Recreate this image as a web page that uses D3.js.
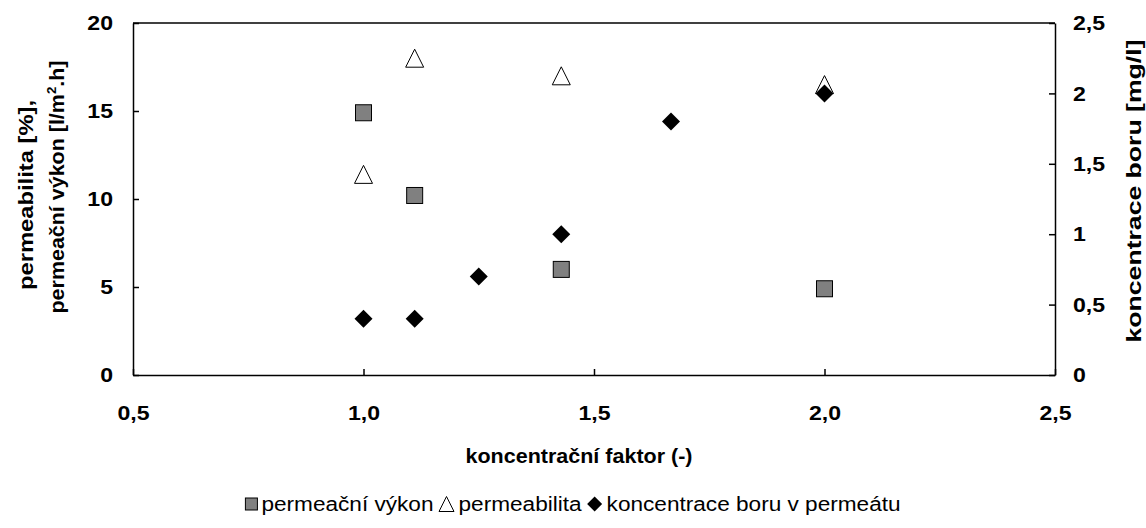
<!DOCTYPE html>
<html lang="cs">
<head>
  <meta charset="UTF-8" />
  <title>Koncentrační faktor</title>
  <script src="https://d3js.org/d3.v7.min.js"></script>
  <style>
    body {
      margin: 0;
      background: #fff;
    }
    svg {
      font-family: "Liberation Sans", Arial, sans-serif;
    }
    .axis path, .axis line {
      stroke: #000;
      stroke-width: 1.5px;
    }
    .title {
      font-size: 21px;
      font-weight: bold;
    }
    .legend text {
      font-size: 20px;
    }
  </style>
</head>
<body>
  <svg width="1146" height="528"></svg>

  <script>
    // koncentrační faktor for the two series measured at four points
    const xMembrane = [1.0, 1.111, 1.429, 2.0];
    const vykon = [14.9, 10.2, 6.0, 4.9];          // permeační výkon [l/m2.h]
    const permeabilita = [11.4, 18.0, 17.0, 16.5];  // permeabilita [%]

    // boron in permeate, right axis
    const xBoron = [1.0, 1.111, 1.25, 1.429, 1.667, 2.0];
    const boron = [0.4, 0.4, 0.7, 1.0, 1.8, 2.0];

    const xTicks = [0.5, 1.0, 1.5, 2.0, 2.5];
    const yLeftTicks = [0, 5, 10, 15, 20];
    const yRightTicks = [0, 0.5, 1, 1.5, 2, 2.5];

    const legendLabels = ["permeační výkon", "permeabilita", "koncentrace boru v permeátu"];

    const svg = d3.select("svg"),
          margin = { top: 23, right: 91, bottom: 153, left: 133 },
          width = +svg.attr("width") - margin.left - margin.right,
          height = +svg.attr("height") - margin.top - margin.bottom,
          g = svg.append("g").attr("transform", `translate(${margin.left},${margin.top})`);

    const comma = f => v => f(v).replace(".", ",");

    const x = d3.scaleLinear().domain([0.5, 2.5]).range([0, width]);
    const yL = d3.scaleLinear().domain([0, 20]).range([height, 0]);
    const yR = d3.scaleLinear().domain([0, 2.5]).range([height, 0]);

    // widen text the way the original rendering does
    function stretch(sel, k) {
      sel.each(function () {
        const len = this.getComputedTextLength();
        d3.select(this).attr("textLength", len * k).attr("lengthAdjust", "spacingAndGlyphs");
      });
    }

    function styleAxis(a) {
      a.attr("font-family", "Liberation Sans, Arial, sans-serif")
        .attr("font-size", 21)
        .attr("font-weight", "bold");
      a.selectAll("text").attr("fill", "#000");
      stretch(a.selectAll("text"), 1.1);
    }

    // frame top line
    g.append("line")
      .attr("x1", 0).attr("x2", width)
      .attr("y1", 0).attr("y2", 0)
      .attr("stroke", "#000").attr("stroke-width", 1.5);

    const xAxis = g.append("g")
      .attr("class", "axis")
      .attr("transform", `translate(0,${height})`)
      .call(d3.axisBottom(x).tickValues(xTicks).tickFormat(comma(d3.format(".1f")))
        .tickSizeInner(-6).tickSizeOuter(0).tickPadding(30));

    const yAxisL = g.append("g")
      .attr("class", "axis")
      .call(d3.axisLeft(yL).tickValues(yLeftTicks).tickFormat(d3.format("d"))
        .tickSizeInner(-6).tickSizeOuter(0).tickPadding(20));

    const yAxisR = g.append("g")
      .attr("class", "axis")
      .attr("transform", `translate(${width},0)`)
      .call(d3.axisRight(yR).tickValues(yRightTicks).tickFormat(comma(d3.format("")))
        .tickSizeInner(-6).tickSizeOuter(0).tickPadding(18));

    [xAxis, yAxisL, yAxisR].forEach(styleAxis);

    // axis titles
    svg.append("text")
      .attr("class", "title")
      .attr("x", 579).attr("y", 463)
      .attr("text-anchor", "middle")
      .attr("textLength", 227).attr("lengthAdjust", "spacingAndGlyphs")
      .text("koncentrační faktor (-)");

    svg.append("text")
      .attr("class", "title")
      .attr("transform", "translate(33,195) rotate(-90)")
      .attr("text-anchor", "middle")
      .attr("textLength", 190).attr("lengthAdjust", "spacingAndGlyphs")
      .text("permeabilita [%],");

    const t2 = svg.append("text")
      .attr("class", "title")
      .attr("transform", "translate(64,187) rotate(-90)")
      .attr("text-anchor", "middle")
      .attr("textLength", 253).attr("lengthAdjust", "spacingAndGlyphs");
    t2.append("tspan").text("permeační výkon [l/m");
    t2.append("tspan").attr("font-size", "13px").attr("dy", -8).text("2");
    t2.append("tspan").attr("dy", 8).text(".h]");

    svg.append("text")
      .attr("class", "title")
      .attr("transform", "translate(1141,191) rotate(-90)")
      .attr("text-anchor", "middle")
      .attr("textLength", 303).attr("lengthAdjust", "spacingAndGlyphs")
      .text("koncentrace boru [mg/l]");

    // marker shapes, centred on their bounding box
    const trianglePath = s => `M0,${-s / 2}L${s / 2},${s / 2}L${-s / 2},${s / 2}Z`;
    const diamondPath = s => `M0,${-s / 2}L${s / 2},0L0,${s / 2}L${-s / 2},0Z`;

    const squares = xMembrane.map((v, i) => ({ x: v, y: vykon[i] }));
    const triangles = xMembrane.map((v, i) => ({ x: v, y: permeabilita[i] }));
    const diamonds = xBoron.map((v, i) => ({ x: v, y: boron[i] }));

    g.selectAll(".sq")
      .data(squares)
      .join("rect")
      .attr("class", "sq")
      .attr("x", d => x(d.x) - 8)
      .attr("y", d => yL(d.y) - 8)
      .attr("width", 16).attr("height", 16)
      .attr("fill", "#808080").attr("stroke", "#000").attr("stroke-width", 1);

    g.selectAll(".tri")
      .data(triangles)
      .join("path")
      .attr("class", "tri")
      .attr("transform", d => `translate(${x(d.x)},${yL(d.y)})`)
      .attr("d", trianglePath(18))
      .attr("fill", "#fff").attr("stroke", "#000").attr("stroke-width", 1);

    g.selectAll(".dia")
      .data(diamonds)
      .join("path")
      .attr("class", "dia")
      .attr("transform", d => `translate(${x(d.x)},${yR(d.y)})`)
      .attr("d", diamondPath(18))
      .attr("fill", "#000");

    // legend
    const legend = svg.append("g").attr("class", "legend");
    const legendY = 511;
    let cx = 0;
    legendLabels.forEach((label, i) => {
      const item = legend.append("g");
      if (i === 0) {
        item.append("rect").attr("x", 0).attr("y", -13).attr("width", 12).attr("height", 12)
          .attr("fill", "#808080").attr("stroke", "#000").attr("stroke-width", 1);
      } else if (i === 1) {
        item.append("path").attr("transform", "translate(8,-7)").attr("d", trianglePath(15))
          .attr("fill", "#fff").attr("stroke", "#000").attr("stroke-width", 1);
      } else {
        item.append("path").attr("transform", "translate(8,-7)").attr("d", diamondPath(15))
          .attr("fill", "#000");
      }
      const markerW = i === 0 ? 12 : 16;
      const txt = item.append("text").attr("x", markerW + 4).attr("y", 0).text(label);
      stretch(txt, 1.13);
      const w = markerW + 4 + +txt.attr("textLength");
      item.attr("transform", `translate(${cx},${legendY})`);
      cx += w + 5;
    });
    const total = cx - 5;
    legend.attr("transform", `translate(${573 - total / 2},0)`);
  </script>
</body>
</html>
